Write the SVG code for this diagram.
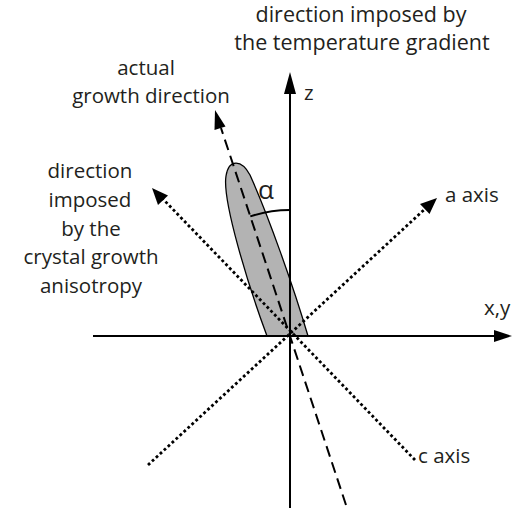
<svg xmlns="http://www.w3.org/2000/svg" width="514" height="510" viewBox="0 0 514 510">
<defs>
<style>
text{font-family:"Open Sans","Liberation Sans",sans-serif;font-size:20.5px;fill:#231f20}
.big{font-size:21.5px}
.ax{stroke:#000;stroke-width:2;fill:none}
.dash{stroke:#000;stroke-width:2;fill:none;stroke-dasharray:11 6}
.dot{stroke:#000;stroke-width:2.8;fill:none;stroke-dasharray:2.8 2.6}
.head{fill:#000}
</style>
</defs>
<rect width="514" height="510" fill="#fff"/>
<g id="crystal">
<path d="M 267 336 C 248 285 222 200 226 176 C 229 158 242 160 250 175 C 268 215 293 285 308 336 Z" fill="#b3b3b3" stroke="#000" stroke-width="1.3"/>
</g>
<g id="connectors">
<line class="ax" x1="290" y1="508" x2="290" y2="90"/>
<polygon class="head" points="290,72 284,94 296,94"/>
<line class="ax" x1="93" y1="336" x2="496" y2="336"/>
<polygon class="head" points="512,336 494,330 494,342"/>
<line class="dash" x1="346" y1="505" x2="221" y2="128"/>
<polygon class="head" points="215,110 214.5,130 225.5,126.5"/>
<line class="dot" x1="148" y1="465" x2="426" y2="208"/>
<polygon class="head" points="437,198 420,204 429.5,214"/>
<line class="dot" x1="415" y1="460" x2="162" y2="198"/>
<polygon class="head" points="152,188 158,205 168,195.5"/>
<path class="ax" stroke-width="1.5" d="M 250.3 216.4 A 126 126 0 0 1 290 210"/>
</g>
<g id="labels">
<text class="big" x="361" y="22" text-anchor="middle">direction imposed by</text>
<text class="big" x="362" y="50" text-anchor="middle">the temperature gradient</text>
<text x="146" y="75" text-anchor="middle">actual</text>
<text x="151" y="103" text-anchor="middle">growth direction</text>
<text x="90" y="178" text-anchor="middle">direction</text>
<text x="90" y="207" text-anchor="middle">imposed</text>
<text x="91" y="236" text-anchor="middle">by the</text>
<text x="91" y="264" text-anchor="middle">crystal growth</text>
<text x="91" y="293" text-anchor="middle">anisotropy</text>
<text x="304" y="100">z</text>
<text x="484" y="315">x,y</text>
<text x="445" y="202">a axis</text>
<text x="418" y="463">c axis</text>
<text x="258" y="199" style="font-size:26px">α</text>
</g>
</svg>
